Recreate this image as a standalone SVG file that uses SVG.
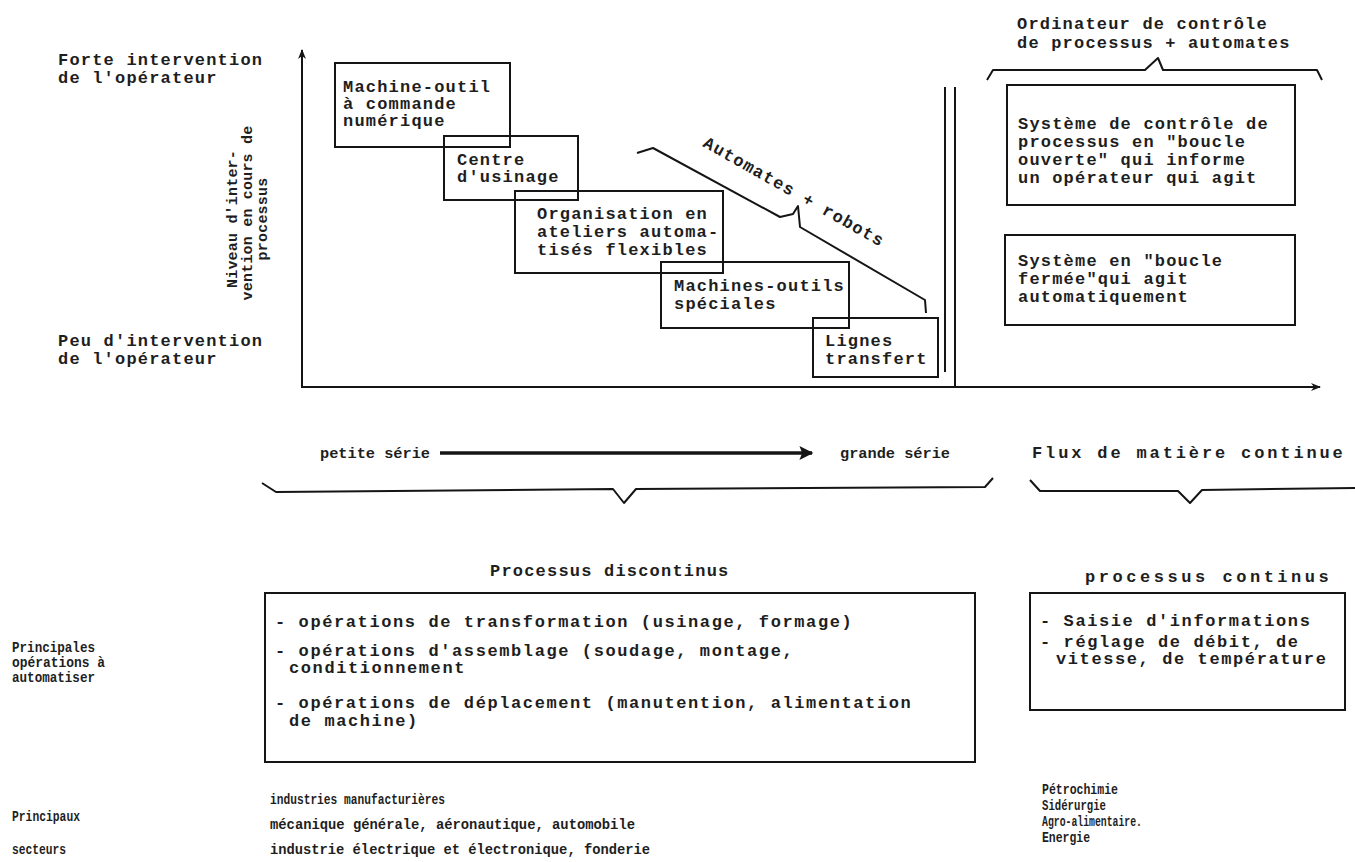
<svg xmlns="http://www.w3.org/2000/svg" width="1355" height="862" viewBox="0 0 1355 862">
<style>
.t{font-family:"Liberation Mono","DejaVu Sans Mono",monospace;font-size:17px;font-weight:bold;letter-spacing:1.2px;fill:#1e1e1e}
.w{letter-spacing:1.6px}
.v{font-size:15px;letter-spacing:0.2px}
.s{font-family:"Liberation Mono","DejaVu Sans Mono",monospace;font-size:15px;font-weight:bold;fill:#1e1e1e}
.box{fill:none;stroke:#151515;stroke-width:2}
.ln{fill:none;stroke:#151515;stroke-width:2;stroke-linejoin:round}
</style>
<defs>
<marker id="ah" viewBox="0 0 10 10" refX="9" refY="5" markerWidth="5" markerHeight="5" orient="auto" markerUnits="strokeWidth">
<path d="M0,1 L10,5 L0,9 L3,5 Z" fill="#151515"/>
</marker>
<marker id="ah2" viewBox="0 0 10 10" refX="9" refY="5" markerWidth="5" markerHeight="4" orient="auto" markerUnits="strokeWidth">
<path d="M0,0 L10,5 L0,10 L2,5 Z" fill="#151515"/>
</marker>
</defs>
<rect width="1355" height="862" fill="#fff"/>

<g id="axes-labels">
<text class="t" x="58" y="65">Forte intervention</text>
<text class="t" x="58" y="83">de l'opérateur</text>
<text class="t" x="58" y="346">Peu d'intervention</text>
<text class="t" x="58" y="364">de l'opérateur</text>
<g transform="rotate(-90)">
<text class="t v" x="-219" y="237" text-anchor="middle">Niveau d'inter-</text>
<text class="t v" x="-213" y="252" text-anchor="middle">vention en cours de</text>
<text class="t v" x="-219" y="267" text-anchor="middle">processus</text>
</g>
</g>

<g id="connectors">
<line class="ln" x1="302" y1="388" x2="302" y2="50" marker-end="url(#ah)"/>
<line class="ln" x1="302" y1="387" x2="1320" y2="387" marker-end="url(#ah)"/>
<line class="ln" x1="945" y1="87" x2="945" y2="372"/>
<line class="ln" x1="955" y1="87" x2="955" y2="387"/>
<polyline class="ln" points="637,153 653,148 780,217 793,214 798,206 800,227 925,300 926,313"/>
<polyline class="ln" points="987,80 993,70 1145,70 1158,58 1163,70 1317,70 1322,80"/>
<line x1="440" y1="453" x2="812" y2="453" stroke="#151515" stroke-width="3.5" marker-end="url(#ah2)"/>
<polyline class="ln" points="262,483 276,492 613,489 624,503 636,489 985,487 993,478"/>
<polyline class="ln" points="1030,480 1040,491 1178,491 1190,503 1202,490 1355,488"/>
</g>

<g id="n1">
<rect class="box" x="335" y="63" width="175" height="84"/>
<text class="t" x="343" y="92">Machine-outil</text>
<text class="t" x="343" y="109">à commande</text>
<text class="t" x="343" y="126">numérique</text>
</g>
<g id="n2">
<rect class="box" x="444" y="136" width="134" height="64"/>
<text class="t" x="457" y="165">Centre</text>
<text class="t" x="457" y="182">d'usinage</text>
</g>
<g id="n3">
<rect class="box" x="515" y="191" width="208" height="82"/>
<text class="t" x="537" y="219">Organisation en</text>
<text class="t" x="537" y="237">ateliers automa-</text>
<text class="t" x="537" y="255">tisés flexibles</text>
</g>
<g id="n4">
<rect class="box" x="661" y="262" width="188" height="66"/>
<text class="t" x="674" y="291">Machines-outils</text>
<text class="t" x="674" y="309">spéciales</text>
</g>
<g id="n5">
<rect class="box" x="813" y="318" width="125" height="59"/>
<text class="t" x="825" y="346">Lignes</text>
<text class="t" x="825" y="364">transfert</text>
</g>
<g id="automates">
<text class="t" transform="translate(702,146) rotate(29.5)">Automates + robots</text>
</g>
<g id="ordinateur">
<text class="t" x="1017" y="29">Ordinateur de contrôle</text>
<text class="t" x="1017" y="48">de processus + automates</text>
</g>
<g id="n6">
<rect class="box" x="1007" y="85" width="288" height="120"/>
<text class="t" x="1018" y="129">Système de contrôle de</text>
<text class="t" x="1018" y="147">processus en "boucle</text>
<text class="t" x="1018" y="165">ouverte" qui informe</text>
<text class="t" x="1018" y="183">un opérateur qui agit</text>
</g>
<g id="n7">
<rect class="box" x="1005" y="235" width="290" height="90"/>
<text class="t" x="1018" y="266">Système en "boucle</text>
<text class="t" x="1018" y="284">fermée"qui agit</text>
<text class="t" x="1018" y="302">automatiquement</text>
</g>

<g id="series">
<text class="s" x="320" y="458" textLength="110" lengthAdjust="spacingAndGlyphs">petite série</text>
<text class="s" x="840" y="458" textLength="110" lengthAdjust="spacingAndGlyphs">grande série</text>
<text class="t" x="1032" y="458" textLength="312" lengthAdjust="spacing">Flux de matière continue</text>
</g>

<g id="discontinus">
<text class="t" x="490" y="576">Processus discontinus</text>
<rect class="box" x="265" y="593" width="710" height="169"/>
<text class="t w" x="275" y="627">- opérations de transformation (usinage, formage)</text>
<text class="t w" x="275" y="656">- opérations d'assemblage (soudage, montage,</text>
<text class="t w" x="289" y="673">conditionnement</text>
<text class="t w" x="275" y="708">- opérations de déplacement (manutention, alimentation</text>
<text class="t w" x="289" y="726">de machine)</text>
</g>

<g id="continus">
<text class="t" x="1085" y="582" textLength="245" lengthAdjust="spacing">processus continus</text>
<rect class="box" x="1030" y="593" width="315" height="117"/>
<text class="t w" x="1040" y="626">- Saisie d'informations</text>
<text class="t w" x="1040" y="647">- réglage de débit, de</text>
<text class="t w" x="1056" y="664">vitesse, de température</text>
</g>

<g id="left-labels">
<text class="s" x="12" y="652" textLength="83" lengthAdjust="spacingAndGlyphs">Principales</text>
<text class="s" x="12" y="667" textLength="93" lengthAdjust="spacingAndGlyphs">opérations à</text>
<text class="s" x="12" y="682" textLength="83" lengthAdjust="spacingAndGlyphs">automatiser</text>
<text class="s" x="12" y="821" textLength="68" lengthAdjust="spacingAndGlyphs">Principaux</text>
<text class="s" x="12" y="854" textLength="54" lengthAdjust="spacingAndGlyphs">secteurs</text>
</g>

<g id="secteurs">
<text class="s" x="270" y="804" textLength="175" lengthAdjust="spacingAndGlyphs">industries manufacturières</text>
<text class="s" x="270" y="829" textLength="365" lengthAdjust="spacingAndGlyphs">mécanique générale, aéronautique, automobile</text>
<text class="s" x="270" y="854" textLength="380" lengthAdjust="spacingAndGlyphs">industrie électrique et électronique, fonderie</text>
<text class="s" x="1042" y="794" textLength="76" lengthAdjust="spacingAndGlyphs">Pétrochimie</text>
<text class="s" x="1042" y="810" textLength="64" lengthAdjust="spacingAndGlyphs">Sidérurgie</text>
<text class="s" x="1042" y="826" textLength="100" lengthAdjust="spacingAndGlyphs">Agro-alimentaire.</text>
<text class="s" x="1042" y="842" textLength="48" lengthAdjust="spacingAndGlyphs">Energie</text>
</g>
</svg>
